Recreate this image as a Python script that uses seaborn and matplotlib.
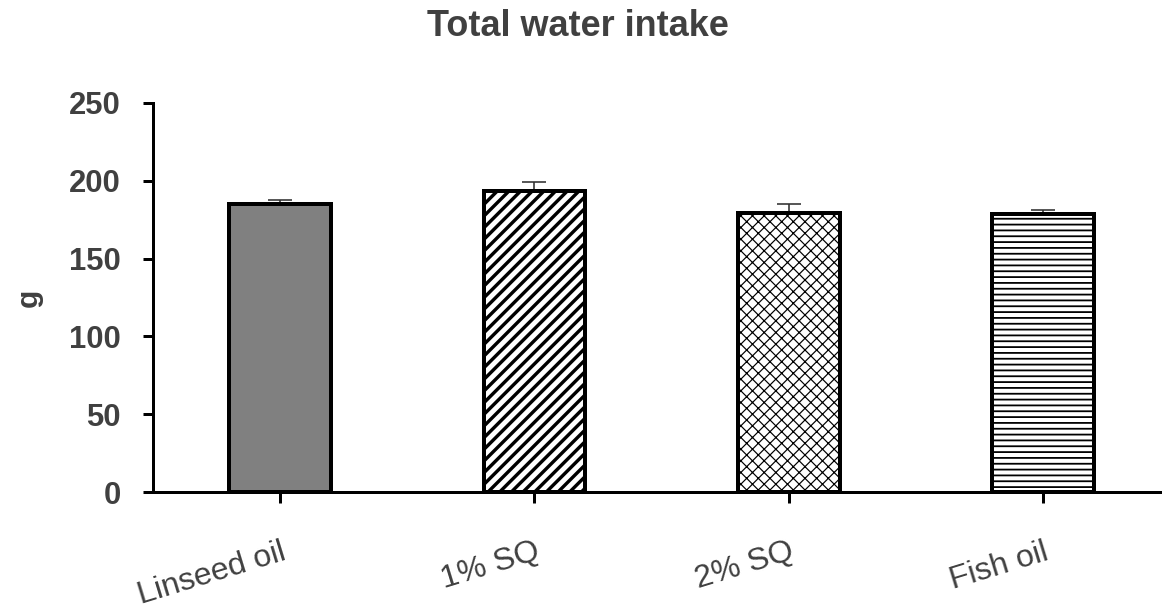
import matplotlib
matplotlib.use("Agg")
import matplotlib.pyplot as plt
import seaborn as sns
import numpy as np

categories = ["Linseed oil", "1% SQ", "2% SQ", "Fish oil"]
values = [185.0, 193.7, 179.3, 178.5]
errors = [2.5, 5.7, 6.0, 2.7]
yticks = [0, 50, 100, 150, 200, 250]
title = "Total water intake"
ylabel = "g"

DPI = 140
def pt(px):
    return px * 72.0 / DPI

sns.set_theme(style="white")
plt.rcParams['font.family'] = ['Liberation Sans', 'DejaVu Sans']
plt.rcParams['hatch.linewidth'] = pt(3)

fig = plt.figure(figsize=(1162 / DPI, 610 / DPI), dpi=DPI)
ax = fig.add_axes([153 / 1162, 1 - 492 / 610, (1160 - 153) / 1162, (492 - 103) / 610])

fills = ["#808080", "white", "white", "white"]
hatches = [None, "////", "xxxx", "----"]
hatch_lw = [pt(1), pt(3.4), pt(1.2), pt(1.8)]

sns.barplot(x=categories, y=values, hue=categories, palette=fills, legend=False,
            width=0.4, edgecolor="black", linewidth=pt(4), saturation=1,
            errorbar=None, ax=ax, zorder=3)

for p, h, lw in zip(ax.patches, hatches, hatch_lw):
    if h:
        p.set_hatch(h)
        try:
            p.set_hatch_linewidth(lw)
        except Exception:
            pass

ax.errorbar(np.arange(len(categories)), values, yerr=errors, fmt="none",
            ecolor="#303030", elinewidth=pt(1.6), capsize=pt(12), capthick=pt(1.6), zorder=2)

ax.set_ylim(0, 250)
ax.set_xlim(-0.5, 3.46)
ax.set_yticks(yticks)
ax.set_yticklabels([str(t) for t in yticks], fontsize=pt(31), fontweight="bold", color="#404040")
ax.set_xticks(range(len(categories)))
ax.set_xticklabels(categories, fontsize=pt(32), color="#404040", rotation=17,
                   ha="right", va="top", rotation_mode="anchor")

for s in ["top", "right"]:
    ax.spines[s].set_visible(False)
for s in ["left", "bottom"]:
    ax.spines[s].set_color("black")
    ax.spines[s].set_linewidth(pt(3))

ax.tick_params(axis="y", which="major", direction="out", length=pt(10), width=pt(3),
               color="black", pad=pt(22), left=True)
ax.tick_params(axis="x", which="major", direction="out", length=pt(11), width=pt(3),
               color="black", pad=pt(34), bottom=True)

ax.set_ylabel(ylabel, fontsize=pt(30), fontweight="bold", color="#404040", labelpad=pt(26))
fig.text(578 / 1162, 1 - 27 / 610, title, fontsize=pt(36), fontweight="bold",
         color="#404040", ha="center", va="center")

fig.savefig("out.png", dpi=DPI)
